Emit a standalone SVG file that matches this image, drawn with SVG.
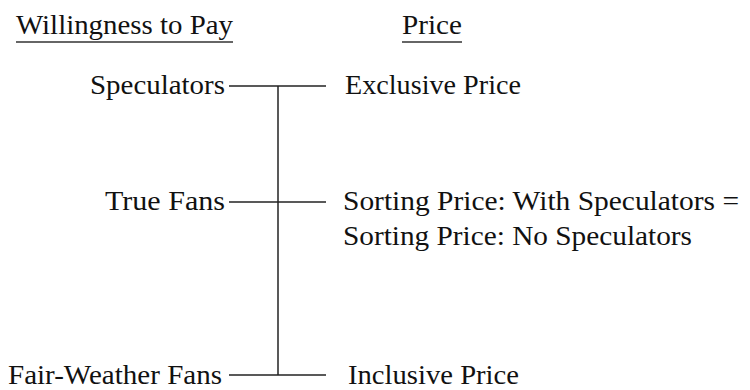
<svg xmlns="http://www.w3.org/2000/svg" width="750" height="390" viewBox="0 0 750 390">
<style>
text{font-family:'Liberation Serif','DejaVu Serif',serif;font-size:27px;fill:#111;}
.r{text-anchor:end;}
.ln{stroke:#222;stroke-width:1.5;fill:none;}
.ul{stroke:#333;stroke-width:1.3;}
</style>
<rect width="750" height="390" fill="#fff"/>
<g id="header-wtp"><text x="16" y="34" textLength="217" lengthAdjust="spacingAndGlyphs">Willingness to Pay</text><line class="ul" x1="16" y1="42" x2="233" y2="42"/></g>
<g id="header-price"><text x="402" y="34" textLength="60" lengthAdjust="spacingAndGlyphs">Price</text><line class="ul" x1="402" y1="42" x2="462" y2="42"/></g>
<g id="speculators"><text class="r" x="225" y="94" textLength="135" lengthAdjust="spacingAndGlyphs">Speculators</text></g>
<g id="true-fans"><text class="r" x="225" y="210" textLength="120" lengthAdjust="spacingAndGlyphs">True Fans</text></g>
<g id="fair-weather-fans"><text class="r" x="222" y="384" textLength="214" lengthAdjust="spacingAndGlyphs">Fair-Weather Fans</text></g>
<g id="exclusive-price"><text x="345" y="94" textLength="176" lengthAdjust="spacingAndGlyphs">Exclusive Price</text></g>
<g id="sorting-price"><text x="343" y="210" textLength="396" lengthAdjust="spacingAndGlyphs">Sorting Price: With Speculators =</text><text x="343" y="245" textLength="349" lengthAdjust="spacingAndGlyphs">Sorting Price: No Speculators</text></g>
<g id="inclusive-price"><text x="348" y="384" textLength="171" lengthAdjust="spacingAndGlyphs">Inclusive Price</text></g>
<g id="connectors">
<line class="ln" x1="278" y1="86" x2="278" y2="375"/>
<line class="ln" x1="229" y1="86" x2="326" y2="86"/>
<line class="ln" x1="229" y1="202" x2="326" y2="202"/>
<line class="ln" x1="229" y1="375" x2="326" y2="375"/>
</g>
</svg>
